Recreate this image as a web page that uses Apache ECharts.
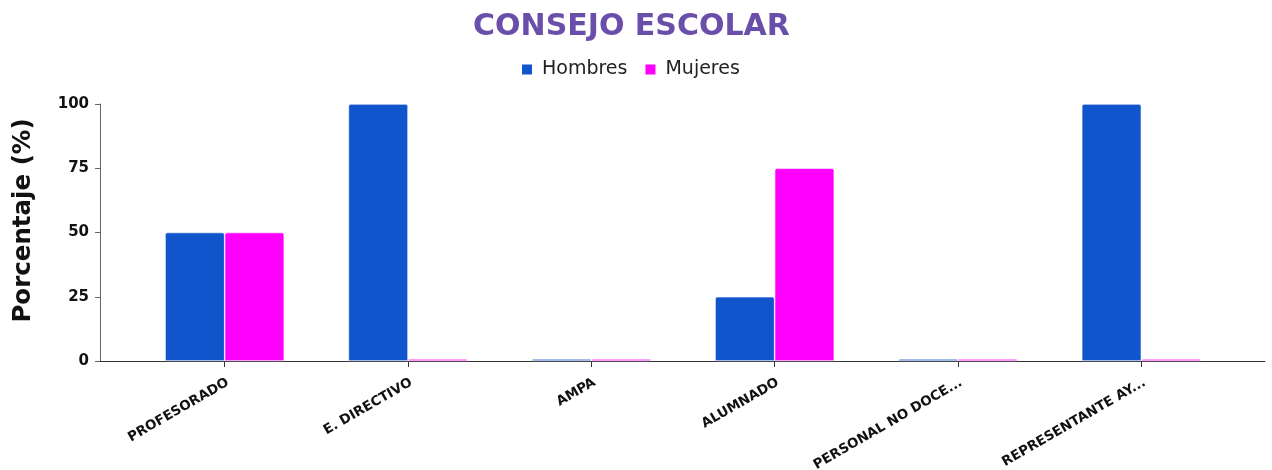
<!DOCTYPE html>
<html><head><meta charset="utf-8">
<script src="https://cdn.jsdelivr.net/npm/echarts@6/dist/echarts.min.js"></script>
<style>html,body{margin:0;padding:0;background:#fff}#c{width:1272px;height:470px}</style>
</head><body><div id="c"></div>
<script>
const categories = ['PROFESORADO','E. DIRECTIVO','AMPA','ALUMNADO','PERSONAL NO DOCE...','REPRESENTANTE AY...'];
const hombres = [50, 100, 0, 25, 0, 100];
const mujeres = [50, 0, 0, 75, 0, 0];
const yTicks = [0, 25, 50, 75, 100];

const chart = echarts.init(document.getElementById('c'), null, {renderer:'canvas'});
const font = 'DejaVu Sans';
chart.setOption({
  animation: false,
  title: {text:'CONSEJO ESCOLAR', left:468, top:7,
    textStyle:{fontFamily:font, fontWeight:'bold', fontSize:30, color:'#6a4faa'}},
  legend: {top:55, left:515, itemWidth:12, itemHeight:12, itemGap:16, icon:'rect',
    textStyle:{fontFamily:font, fontSize:19, color:'#222', padding:[0,0,0,4]},
    data:['Hombres','Mujeres']},
  grid: [
    {left:133, right:39, top:104, bottom:109, outerBoundsMode:'none', containLabel:false},
    {left:100, right:7, top:104, bottom:109, outerBoundsMode:'none', containLabel:false}
  ],
  xAxis: [
    {type:'category', gridIndex:0, data:categories,
     axisLine:{show:true, lineStyle:{color:'#333'}},
     axisTick:{show:true, alignWithLabel:true, length:6, lineStyle:{color:'#333'}},
     axisLabel:{rotate:30, interval:0, margin:15, verticalAlign:'top', fontFamily:font, fontWeight:'bold', fontSize:13.4, color:'#111'}},
    {type:'value', gridIndex:1, min:0, max:1, axisLine:{show:true, lineStyle:{color:'#333'}},
     axisTick:{show:false}, axisLabel:{show:false}, splitLine:{show:false}}
  ],
  yAxis: [
    {type:'value', gridIndex:0, min:0, max:100, interval:25, offset:33,
     name:'Porcentaje (%)', nameLocation:'middle', nameGap:64, nameRotate:90,
     nameTextStyle:{fontFamily:font, fontWeight:'bold', fontSize:24.5, color:'#111', padding:[0,0,0,24]},
     axisLine:{show:true, lineStyle:{color:'#666'}},
     axisTick:{show:true, length:5, lineStyle:{color:'#666'}},
     axisLabel:{fontFamily:font, fontWeight:'bold', fontSize:15, color:'#111', margin:11,
       customValues: yTicks},
     splitLine:{show:false}},
    {type:'value', gridIndex:1, show:false, min:0, max:1}
  ],
  series: [
    {name:'Hombres', type:'bar', xAxisIndex:0, yAxisIndex:0, data:hombres, barGap:'0%', barCategoryGap:'35%',
     barMinHeight:2,
     itemStyle:{color:'#1155cc', borderRadius:[2,2,0,0], borderColor:'#ffffff', borderWidth:0.6}},
    {name:'Mujeres', type:'bar', xAxisIndex:0, yAxisIndex:0, data:mujeres, barMinHeight:2,
     itemStyle:{color:'#ff00ff', borderRadius:[2,2,0,0], borderColor:'#ffffff', borderWidth:0.6}}
  ]
});
</script></body></html>
